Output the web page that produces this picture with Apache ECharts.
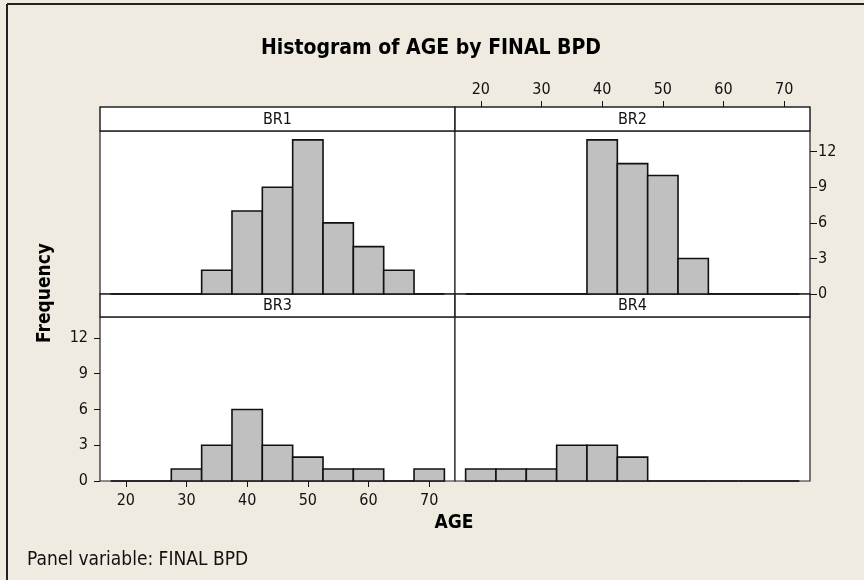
<!DOCTYPE html>
<html>
<head>
<meta charset="utf-8">
<script src="https://cdn.jsdelivr.net/npm/echarts@6/dist/echarts.min.js"></script>
<style>
html,body{margin:0;padding:0;background:#EFEBE1;}
#c{width:864px;height:580px;}
</style>
</head>
<body>
<div id="c"></div>
<script>
// ---- data ----
const binCenters = [20, 25, 30, 35, 40, 45, 50, 55, 60, 65, 70];
const BIN_WIDTH = 5;
const panelNames = ['BR1', 'BR2', 'BR3', 'BR4'];
const countsBR1 = [0, 0, 0, 2, 7, 9, 13, 6, 4, 2, 0];
const countsBR2 = [0, 0, 0, 0, 13, 11, 10, 3, 0, 0, 0];
const countsBR3 = [0, 0, 1, 3, 6, 3, 2, 1, 1, 0, 1];
const countsBR4 = [1, 1, 1, 3, 3, 2, 0, 0, 0, 0, 0];
const xTicks = [20, 30, 40, 50, 60, 70];
const yTicks = [0, 3, 6, 9, 12];
const X_MIN = 15.75, X_MAX = 74.25, Y_MIN = 0, Y_MAX = 13.75;
const titleText = 'Histogram of AGE by FINAL BPD';
const xName = 'AGE', yName = 'Frequency';
const footText = 'Panel variable: FINAL BPD';

// ---- layout ----
const FONT = '"DejaVu Sans Condensed", "DejaVu Sans", sans-serif';
const panels = [
  {left: 100, top: 131, width: 355, height: 163, strip: 24},
  {left: 455, top: 131, width: 355, height: 163, strip: 24},
  {left: 100, top: 317, width: 355, height: 164, strip: 23},
  {left: 455, top: 317, width: 355, height: 164, strip: 23}
];
const allCounts = [countsBR1, countsBR2, countsBR3, countsBR4];

const chart = echarts.init(document.getElementById('c'), null, {renderer: 'canvas'});

function renderBar(params, api) {
  const c = api.value(0), v = api.value(1);
  const p0 = api.coord([c - BIN_WIDTH / 2, 0]);
  const p1 = api.coord([c + BIN_WIDTH / 2, v]);
  if (v === 0) {
    return {type: 'line', shape: {x1: p0[0], y1: p0[1], x2: p1[0], y2: p0[1]},
      style: {stroke: '#111', lineWidth: 1.6}};
  }
  return {type: 'rect',
    shape: {x: p0[0], y: p1[1], width: p1[0] - p0[0], height: p0[1] - p1[1]},
    style: {fill: '#C0C0C0', stroke: '#111', lineWidth: 1.6}};
}

const grid = panels.map(p => ({left: p.left, top: p.top, width: p.width, height: p.height,
  show: true, backgroundColor: '#fff', borderColor: '#222', borderWidth: 1.2}));
// strip grids (header boxes)
panels.forEach(p => grid.push({left: p.left, top: p.top - p.strip, width: p.width, height: p.strip,
  show: true, backgroundColor: '#fff', borderColor: '#222', borderWidth: 1.5}));
// thin grid on top of the BR2 strip that carries the top AGE axis
const p2 = panels[1];
grid.push({left: p2.left, top: p2.top - p2.strip - 0.5, width: p2.width, height: 0.5, show: false});

const labelStyle = {color: '#111', fontFamily: FONT, fontSize: 16};

const xAxis = [];
const yAxis = [];
panels.forEach((p, i) => {
  const xb = {type: 'value', gridIndex: i, min: X_MIN, max: X_MAX,
    splitLine: {show: false}, axisLine: {show: false}};
  if (i === 2) {
    Object.assign(xb, {position: 'bottom',
      axisTick: {show: true, inside: false, length: 6, lineStyle: {color: '#111'}, customValues: xTicks},
      axisLabel: Object.assign({show: true, margin: 12, customValues: xTicks}, labelStyle)});
  } else {
    Object.assign(xb, {axisTick: {show: false}, axisLabel: {show: false}});
  }
  xAxis.push(xb);
  const yb = {type: 'value', gridIndex: i, min: Y_MIN, max: Y_MAX,
    splitLine: {show: false}, axisLine: {show: false}};
  if (i === 1) {
    Object.assign(yb, {position: 'right',
      axisTick: {show: true, inside: false, length: 7, lineStyle: {color: '#111'}, customValues: yTicks},
      axisLabel: Object.assign({show: true, margin: 8, customValues: yTicks}, labelStyle)});
  } else if (i === 2) {
    Object.assign(yb, {position: 'left',
      axisTick: {show: true, inside: false, length: 6, lineStyle: {color: '#111'}, customValues: yTicks},
      axisLabel: Object.assign({show: true, margin: 12, customValues: yTicks}, labelStyle)});
  } else {
    Object.assign(yb, {axisTick: {show: false}, axisLabel: {show: false}});
  }
  yAxis.push(yb);
});
panels.forEach((p, i) => {
  xAxis.push({type: 'value', gridIndex: 4 + i, min: X_MIN, max: X_MAX, show: false});
  yAxis.push({type: 'value', gridIndex: 4 + i, min: 0, max: 1, show: false});
});
xAxis.push({type: 'value', gridIndex: 8, min: X_MIN, max: X_MAX, position: 'top',
  splitLine: {show: false}, axisLine: {show: false},
  axisTick: {show: true, inside: false, length: 6, lineStyle: {color: '#111'}, customValues: xTicks},
  axisLabel: Object.assign({show: true, margin: 9, customValues: xTicks}, labelStyle)});
yAxis.push({type: 'value', gridIndex: 8, min: 0, max: 1, show: false});

const series = allCounts.map((counts, i) => ({
  type: 'custom', xAxisIndex: i, yAxisIndex: i, renderItem: renderBar,
  data: binCenters.map((c, k) => [c, counts[k]]), animation: false, z: 3
}));

const graphics = [
  {type: 'line', shape: {x1: 7, y1: 4, x2: 864, y2: 4}, style: {stroke: '#222', lineWidth: 2}},
  {type: 'line', shape: {x1: 7, y1: 4, x2: 7, y2: 580}, style: {stroke: '#222', lineWidth: 2}},
  {type: 'text', x: 431, y: 49, style: {text: titleText, fontFamily: FONT, fontWeight: 'bold', fontSize: 21,
    fill: '#000', align: 'center', verticalAlign: 'middle'}},
  {type: 'text', x: 45, y: 293, rotation: Math.PI / 2, style: {text: yName, fontFamily: FONT, fontWeight: 'bold',
    fontSize: 19, fill: '#000', align: 'center', verticalAlign: 'middle'}},
  {type: 'text', x: 454, y: 523, style: {text: xName, fontFamily: FONT, fontWeight: 'bold', fontSize: 19,
    fill: '#000', align: 'center', verticalAlign: 'middle'}},
  {type: 'text', x: 27, y: 560, style: {text: footText, fontFamily: FONT, fontSize: 19,
    fill: '#111', align: 'left', verticalAlign: 'middle'}}
];
panels.forEach((p, i) => {
  graphics.push({type: 'text', z: 11, x: p.left + p.width / 2, y: p.top - p.strip / 2 + 0.5,
    style: {text: panelNames[i], fontFamily: FONT, fontSize: 16, fill: '#111', align: 'center', verticalAlign: 'middle'}});
});

chart.setOption({
  backgroundColor: '#EFEBE1',
  animation: false,
  grid, xAxis, yAxis, series,
  graphic: {elements: graphics}
});
</script>
</body>
</html>
